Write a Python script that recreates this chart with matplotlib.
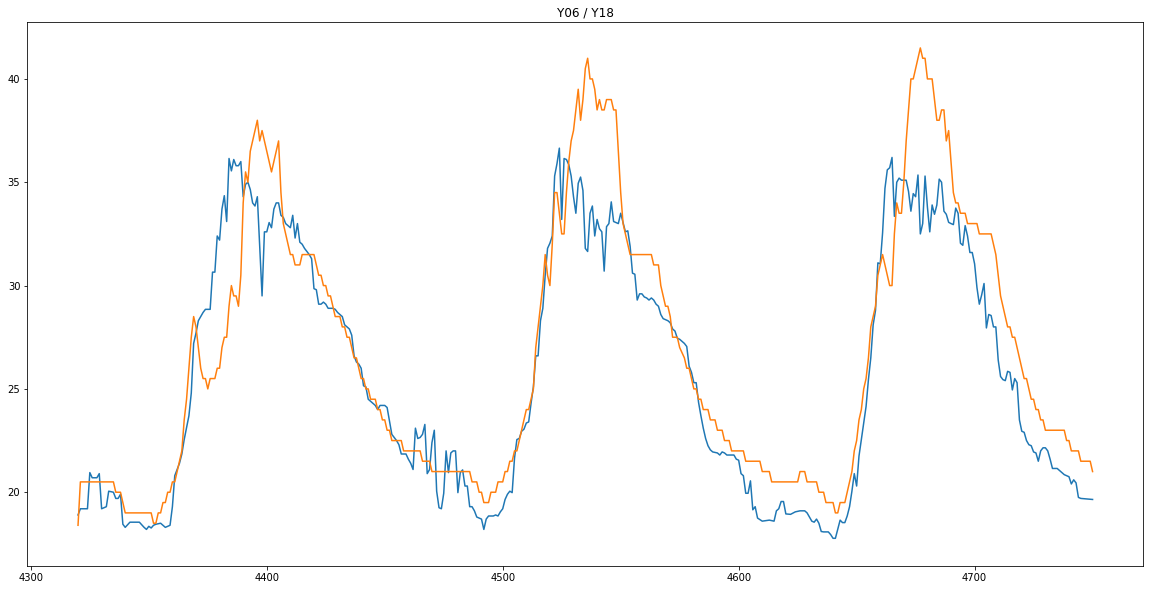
import matplotlib
matplotlib.use("Agg")
import matplotlib.pyplot as plt

title = "Y06 / Y18"

y06_x = [4320, 4321, 4324, 4325, 4326, 4328, 4329, 4330, 4332, 4333, 4335, 4336, 4337, 4338, 4339, 4340,
         4342, 4346, 4348, 4349, 4350, 4351, 4352, 4353, 4355, 4356, 4357, 4359, 4360, 4361, 4363, 4364,
         4365, 4367, 4368, 4369, 4370, 4371, 4373, 4374, 4376, 4377, 4378, 4379, 4380, 4381, 4382, 4383,
         4384, 4385, 4386, 4387, 4388, 4389, 4390, 4391, 4392, 4393, 4394, 4395, 4396, 4398, 4399, 4400,
         4401, 4402, 4403, 4404, 4405, 4406, 4407, 4408, 4409, 4410, 4411, 4412, 4413, 4414, 4415, 4416,
         4418, 4419, 4420, 4421, 4422, 4423, 4424, 4425, 4426, 4428, 4429, 4430, 4432, 4433, 4435, 4436,
         4437, 4438, 4439, 4440, 4441, 4442, 4443, 4445, 4446, 4447, 4448, 4450, 4451, 4452, 4453, 4455,
         4456, 4457, 4459, 4460, 4461, 4462, 4463, 4464, 4465, 4466, 4467, 4468, 4469, 4470, 4471, 4472,
         4473, 4474, 4475, 4476, 4477, 4478, 4479, 4480, 4481, 4482, 4483, 4484, 4485, 4486, 4487, 4488,
         4489, 4491, 4492, 4493, 4494, 4496, 4497, 4498, 4499, 4500, 4501, 4502, 4503, 4504, 4505, 4506,
         4507, 4508, 4509, 4510, 4511, 4512, 4513, 4514, 4515, 4516, 4517, 4518, 4519, 4520, 4521, 4522,
         4523, 4524, 4525, 4526, 4527, 4528, 4529, 4530, 4531, 4532, 4533, 4534, 4535, 4536, 4537, 4538,
         4539, 4540, 4541, 4542, 4543, 4544, 4545, 4546, 4547, 4548, 4549, 4550, 4551, 4552, 4553, 4554,
         4555, 4556, 4557, 4558, 4559, 4560, 4561, 4562, 4563, 4564, 4565, 4566, 4567, 4568, 4570, 4571,
         4572, 4573, 4574, 4575, 4576, 4577, 4578, 4579, 4580, 4581, 4582, 4583, 4584, 4585, 4586, 4587,
         4588, 4589, 4591, 4592, 4593, 4594, 4595, 4596, 4598, 4599, 4600, 4601, 4602, 4603, 4604, 4605,
         4606, 4607, 4608, 4610, 4613, 4615, 4616, 4617, 4618, 4619, 4620, 4622, 4624, 4626, 4628, 4629,
         4630, 4631, 4632, 4633, 4634, 4635, 4636, 4638, 4639, 4640, 4641, 4642, 4643, 4644, 4645, 4646,
         4647, 4648, 4649, 4650, 4651, 4652, 4653, 4654, 4655, 4656, 4657, 4658, 4659, 4660, 4661, 4662,
         4663, 4664, 4665, 4666, 4667, 4668, 4669, 4670, 4671, 4672, 4673, 4674, 4675, 4676, 4677, 4678,
         4679, 4680, 4681, 4682, 4683, 4684, 4685, 4686, 4687, 4688, 4689, 4690, 4691, 4692, 4693, 4694,
         4695, 4696, 4697, 4698, 4699, 4700, 4701, 4702, 4703, 4704, 4705, 4706, 4707, 4708, 4709, 4710,
         4711, 4712, 4713, 4714, 4715, 4716, 4717, 4718, 4719, 4720, 4721, 4722, 4723, 4724, 4725, 4726,
         4727, 4728, 4729, 4730, 4731, 4732, 4733, 4735, 4736, 4737, 4738, 4739, 4740, 4741, 4742, 4743,
         4744, 4745, 4750]
y06_v = [18.9, 19.2, 19.2, 20.95, 20.7, 20.7, 20.9, 19.2, 19.3, 20.05, 20.0, 19.7, 19.7, 19.9, 18.45, 18.3,
         18.55, 18.55, 18.3, 18.2, 18.35, 18.27, 18.4, 18.45, 18.5, 18.4, 18.3, 18.4, 19.3, 20.8, 21.4, 21.85,
         22.55, 23.7, 24.8, 27.2, 27.7, 28.3, 28.7, 28.85, 28.85, 30.65, 30.65, 32.4, 32.2, 33.7, 34.35, 33.1,
         36.15, 35.55, 36.1, 35.8, 35.8, 36.0, 34.3, 34.9, 35.0, 34.65, 34.0, 33.85, 34.3, 29.5, 32.6, 32.6,
         33.05, 32.8, 33.7, 34.0, 34.0, 33.4, 33.3, 33.0, 32.9, 32.8, 33.4, 32.3, 33.0, 32.1, 32.0, 31.8,
         31.5, 31.3, 29.85, 29.8, 29.1, 29.1, 29.2, 29.1, 28.9, 28.9, 28.85, 28.7, 28.5, 28.1, 27.9, 27.6,
         26.6, 26.3, 26.2, 26.0, 25.15, 25.1, 24.5, 24.3, 24.2, 24.0, 24.2, 24.2, 24.1, 23.45, 22.8, 22.5,
         22.3, 21.85, 21.85, 21.6, 21.4, 21.1, 23.1, 22.6, 22.65, 22.8, 23.28, 20.9, 21.1, 22.4, 23.0, 20.05,
         19.25, 19.2, 19.95, 22.0, 20.95, 21.9, 22.0, 22.0, 19.98, 20.95, 21.08, 20.3, 20.3, 19.3, 19.3, 19.1,
         18.8, 18.7, 18.2, 18.7, 18.85, 18.85, 18.9, 18.85, 19.05, 19.2, 19.65, 19.9, 20.05, 19.98, 21.65, 22.55,
         22.6, 22.95, 23.05, 23.35, 23.4, 24.3, 25.1, 26.6, 26.6, 28.3, 28.9, 30.5, 31.8, 32.05, 32.4, 35.3,
         35.9, 36.65, 33.2, 36.15, 36.1, 35.85, 35.3, 34.3, 33.5, 34.95, 35.25, 34.6, 31.8, 31.65, 33.5, 33.85,
         32.4, 33.2, 32.75, 32.6, 30.7, 32.85, 33.0, 34.05, 33.1, 33.05, 33.0, 33.5, 33.05, 32.6, 32.65, 31.9,
         30.6, 30.55, 29.3, 29.6, 29.6, 29.45, 29.4, 29.3, 29.4, 29.3, 29.1, 29.0, 28.6, 28.4, 28.3, 28.2,
         27.9, 27.8, 27.45, 27.4, 27.3, 27.2, 27.05, 26.1, 25.8, 25.3, 25.3, 24.35, 23.7, 23.1, 22.6, 22.25,
         22.05, 21.95, 21.9, 21.8, 21.95, 21.9, 21.8, 21.8, 21.8, 21.6, 21.55, 20.9, 20.8, 19.95, 19.95, 20.55,
         19.15, 19.3, 18.75, 18.6, 18.65, 18.6, 19.1, 19.2, 19.55, 19.55, 18.95, 18.93, 19.05, 19.1, 19.1, 19.0,
         18.8, 18.6, 18.55, 18.7, 18.5, 18.1, 18.08, 18.08, 17.95, 17.77, 17.77, 18.2, 18.65, 18.53, 18.53, 18.85,
         19.3, 20.05, 20.9, 20.3, 21.75, 22.55, 23.35, 24.15, 25.45, 26.5, 28.1, 28.8, 31.1, 31.05, 32.55, 34.7,
         35.6, 35.7, 36.2, 33.35, 35.0, 35.2, 35.1, 35.1, 35.1, 34.55, 33.6, 34.45, 34.3, 35.35, 32.5, 33.0,
         35.3, 33.8, 32.6, 33.9, 33.45, 33.9, 35.15, 35.0, 33.6, 33.45, 33.06, 33.0, 32.95, 33.75, 33.5, 32.05,
         31.95, 32.9, 32.4, 31.6, 31.6, 31.05, 29.9, 29.1, 29.55, 30.1, 27.95, 28.6, 28.55, 28.0, 28.0, 26.4,
         25.6, 25.45, 25.4, 25.85, 25.8, 24.95, 25.5, 25.3, 23.5, 22.95, 22.9, 22.5, 22.3, 22.25, 21.95, 21.9,
         21.5, 22.0, 22.15, 22.15, 22.0, 21.6, 21.15, 21.15, 21.05, 20.95, 20.85, 20.8, 20.75, 20.4, 20.6, 20.45,
         19.75, 19.7, 19.65]

y18_x = [4320, 4321, 4335, 4336, 4338, 4340, 4351, 4352, 4353, 4354, 4355, 4356, 4357, 4358, 4359, 4360,
         4361, 4362, 4363, 4364, 4365, 4366, 4367, 4368, 4369, 4370, 4371, 4372, 4373, 4374, 4375, 4376,
         4378, 4379, 4380, 4381, 4382, 4383, 4384, 4385, 4386, 4387, 4388, 4389, 4390, 4391, 4392, 4393,
         4394, 4395, 4396, 4397, 4398, 4399, 4400, 4401, 4402, 4403, 4404, 4405, 4406, 4407, 4408, 4409,
         4410, 4411, 4412, 4414, 4415, 4420, 4421, 4422, 4423, 4424, 4425, 4426, 4427, 4428, 4429, 4431,
         4432, 4433, 4434, 4435, 4436, 4437, 4438, 4439, 4440, 4441, 4442, 4443, 4444, 4446, 4447, 4448,
         4449, 4450, 4451, 4452, 4453, 4457, 4458, 4465, 4466, 4469, 4470, 4486, 4487, 4489, 4490, 4491,
         4492, 4494, 4495, 4497, 4498, 4500, 4501, 4502, 4503, 4504, 4505, 4506, 4507, 4508, 4509, 4510,
         4511, 4512, 4513, 4514, 4515, 4516, 4517, 4518, 4519, 4520, 4521, 4522, 4523, 4524, 4525, 4526,
         4527, 4528, 4529, 4530, 4531, 4532, 4533, 4534, 4535, 4536, 4537, 4538, 4539, 4540, 4541, 4542,
         4543, 4544, 4546, 4547, 4548, 4549, 4550, 4551, 4552, 4553, 4554, 4563, 4564, 4566, 4567, 4568,
         4569, 4570, 4571, 4572, 4574, 4575, 4577, 4578, 4579, 4580, 4581, 4582, 4583, 4584, 4585, 4587,
         4588, 4590, 4591, 4593, 4594, 4596, 4597, 4602, 4603, 4609, 4610, 4613, 4614, 4625, 4626, 4628,
         4629, 4633, 4634, 4636, 4637, 4640, 4641, 4642, 4643, 4645, 4646, 4647, 4648, 4649, 4650, 4651,
         4652, 4653, 4654, 4655, 4656, 4657, 4658, 4659, 4660, 4661, 4662, 4663, 4664, 4665, 4666, 4667,
         4668, 4669, 4670, 4671, 4672, 4673, 4674, 4675, 4676, 4677, 4678, 4679, 4680, 4682, 4683, 4684,
         4685, 4686, 4687, 4688, 4689, 4690, 4691, 4692, 4693, 4694, 4696, 4697, 4701, 4702, 4707, 4708,
         4709, 4710, 4711, 4712, 4713, 4714, 4715, 4716, 4717, 4718, 4719, 4720, 4721, 4722, 4723, 4724,
         4725, 4726, 4727, 4728, 4729, 4730, 4738, 4739, 4740, 4741, 4744, 4745, 4749, 4750]
y18_v = [18.4, 20.5, 20.5, 20.0, 20.0, 19.0, 19.0, 18.5, 18.5, 19.0, 19.0, 19.5, 19.5, 20.0, 20.0, 20.5,
         20.5, 21.0, 21.5, 22.0, 23.5, 24.5, 26.0, 27.5, 28.5, 28.0, 27.0, 26.0, 25.5, 25.5, 25.0, 25.5,
         25.5, 26.0, 26.0, 27.0, 27.5, 27.5, 29.0, 30.0, 29.5, 29.5, 29.0, 30.5, 34.0, 35.5, 35.0, 36.5,
         37.0, 37.5, 38.0, 37.0, 37.5, 37.0, 36.5, 36.0, 35.5, 36.0, 36.5, 37.0, 34.5, 33.0, 32.5, 32.0,
         31.5, 31.5, 31.0, 31.0, 31.5, 31.5, 31.0, 30.5, 30.5, 30.0, 30.0, 29.5, 29.5, 29.0, 28.5, 28.5,
         28.0, 28.0, 27.5, 27.5, 27.0, 26.5, 26.5, 26.0, 25.5, 25.5, 25.0, 25.0, 24.5, 24.5, 24.0, 24.0,
         23.5, 23.5, 23.0, 23.0, 22.5, 22.5, 22.0, 22.0, 21.5, 21.5, 21.0, 21.0, 20.5, 20.5, 20.0, 20.0,
         19.5, 19.5, 20.0, 20.0, 20.5, 20.5, 21.0, 21.0, 21.5, 21.5, 22.0, 22.0, 22.5, 23.0, 23.5, 24.0,
         24.0, 24.5, 25.0, 27.0, 28.0, 29.0, 30.0, 31.5, 30.5, 30.0, 32.0, 34.5, 34.5, 33.5, 32.5, 32.5,
         34.5, 36.0, 37.0, 37.5, 38.5, 39.5, 38.0, 39.0, 40.5, 41.0, 40.0, 40.0, 39.5, 38.5, 39.0, 38.5,
         38.5, 39.0, 39.0, 38.5, 38.5, 36.5, 34.5, 33.0, 32.5, 32.0, 31.5, 31.5, 31.0, 31.0, 30.0, 29.5,
         29.0, 29.0, 28.5, 27.5, 27.5, 27.0, 26.5, 26.0, 26.0, 25.5, 25.0, 25.0, 24.5, 24.5, 24.0, 24.0,
         23.5, 23.5, 23.0, 23.0, 22.5, 22.5, 22.0, 22.0, 21.5, 21.5, 21.0, 21.0, 20.5, 20.5, 21.0, 21.0,
         20.5, 20.5, 20.0, 20.0, 19.5, 19.5, 19.0, 19.0, 19.5, 19.5, 20.0, 20.5, 21.0, 22.0, 22.5, 23.5,
         24.0, 25.0, 25.5, 26.5, 28.0, 28.5, 29.0, 30.5, 31.0, 31.5, 31.0, 30.5, 30.0, 30.0, 32.5, 34.0,
         33.5, 33.5, 35.0, 37.0, 38.5, 40.0, 40.0, 40.5, 41.0, 41.5, 41.0, 41.0, 40.0, 40.0, 39.0, 38.0,
         38.0, 38.5, 38.5, 37.0, 37.5, 36.0, 34.5, 34.0, 34.0, 33.5, 33.5, 33.0, 33.0, 32.5, 32.5, 32.0,
         31.5, 30.5, 29.5, 29.0, 28.5, 28.0, 28.0, 27.5, 27.5, 27.0, 26.5, 26.0, 25.5, 25.5, 25.0, 24.5,
         24.5, 24.0, 24.0, 23.5, 23.5, 23.0, 23.0, 22.5, 22.5, 22.0, 22.0, 21.5, 21.5, 21.0]

fig = plt.figure(figsize=(1150 / 72, 590 / 72), dpi=72)
ax = fig.add_axes([27.3 / 1150, 24 / 590, 1116 / 1150, 543.7 / 590])
ax.plot(y06_x, y06_v, color="#1f77b4", linewidth=1.5)
ax.plot(y18_x, y18_v, color="#ff7f0e", linewidth=1.5)
ax.set_xlim(4298.5, 4771.5)
ax.set_ylim(16.43, 42.74)
ax.set_xticks([4300, 4400, 4500, 4600, 4700])
ax.set_yticks([20, 25, 30, 35, 40])
ax.set_title(title, fontsize=12)
fig.savefig("out.png", dpi=72)
